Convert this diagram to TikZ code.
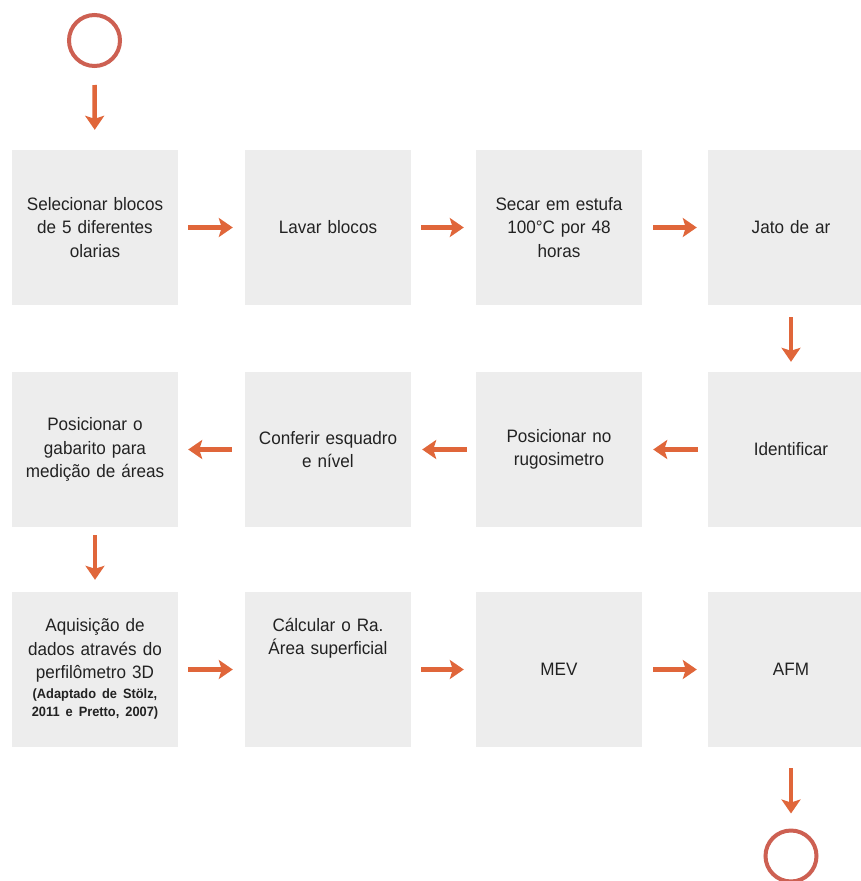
\documentclass[tikz,border=0pt]{standalone}
\usepackage{fontspec}
\setmainfont[FakeStretch=0.95, WordSpace=0.75]{Liberation Sans}
\usetikzlibrary{arrows.meta}
\definecolor{boxgray}{RGB}{237,237,237}
\definecolor{flow}{RGB}{224,102,58}
\definecolor{ring}{RGB}{205,96,82}
\definecolor{ink}{RGB}{34,34,34}
\newcommand{\stepfont}{\fontsize{18}{23.5}\selectfont}
\newcommand{\notefont}{\fontsize{13.5}{17}\selectfont\bfseries}
\tikzset{
  stepbox/.style={draw=none, fill=boxgray, minimum width=166pt, minimum height=155pt,
    inner sep=0pt, text width=160pt, align=center, text=ink, font=\stepfont},
  steptext/.style={inner sep=0pt, text width=160pt, align=center, text=ink, font=\stepfont},
  terminal/.style={circle, draw=ring, line width=4pt, minimum size=51pt, inner sep=0pt},
  flowarrow/.style={draw=flow, line width=4.5pt,
    -{Stealth[length=14pt, width=19pt, inset=3pt]}},
}
\begin{document}
\begin{tikzpicture}[x=1pt, y=-1pt]
  \clip (0,0) rectangle (861,881);
  \fill[white] (0,0) rectangle (861,881);

  % start and end markers
  \node[terminal] (start) at (94.5,40.5) {};
  \node[terminal] (finish) at (791,856) {};

  % first row
  \node[stepbox] (s1) at (95,227.5) {Selecionar blocos\\de 5 diferentes\\olarias};
  \node[stepbox] (s2) at (328,227.5) {Lavar blocos};
  \node[stepbox] (s3) at (559,227.5) {Secar em estufa\\100°C por 48\\horas};
  \node[stepbox] (s4) at (791,227.5) {Jato de ar};

  % second row
  \node[stepbox] (s5) at (791,449.5) {Identificar};
  \node[stepbox] (s6) at (559,449.5) {\raisebox{-6pt}{\parbox{160pt}{\centering Posicionar no\\rugosimetro}}};
  \node[stepbox] (s7) at (328,449.5) {\raisebox{-6pt}{\parbox{160pt}{\centering Conferir esquadro\\e nível}}};
  \node[stepbox] (s8) at (95,449.5) {Posicionar o\\gabarito para\\medição de áreas};

  % third row
  \node[stepbox] (s9) at (95,669.5) {\raisebox{10pt}{\begin{tabular}{@{}c@{}}
      Aquisição de\\dados através do\\perfilômetro 3D\\[-4pt]
      {\notefont (Adaptado de Stölz,}\\[-5pt]
      {\notefont 2011 e Pretto, 2007)}
    \end{tabular}}};
  \node[stepbox] (s10) at (328,669.5) {};
  \node[steptext] (s10t) at (328,638) {Cálcular o Ra.\\Área superficial};
  \node[stepbox] (s11) at (559,669.5) {MEV};
  \node[stepbox] (s12) at (791,669.5) {AFM};

  % connectors
  \draw[flowarrow, shorten <=17pt, shorten >=20pt] (start) -- (s1);
  \draw[flowarrow, shorten <=10pt, shorten >=12pt] (s1) -- (s2);
  \draw[flowarrow, shorten <=10pt, shorten >=12pt] (s2) -- (s3);
  \draw[flowarrow, shorten <=11pt, shorten >=11pt] (s3) -- (s4);
  \draw[flowarrow, shorten <=12pt, shorten >=10pt] (s4) -- (s5);
  \draw[flowarrow, shorten <=10pt, shorten >=11pt] (s5) -- (s6);
  \draw[flowarrow, shorten <=9pt, shorten >=11pt] (s6) -- (s7);
  \draw[flowarrow, shorten <=13pt, shorten >=10pt] (s7) -- (s8);
  \draw[flowarrow, shorten <=8pt, shorten >=12pt] (s8) -- (s9);
  \draw[flowarrow, shorten <=10pt, shorten >=12pt] (s9) -- (s10);
  \draw[flowarrow, shorten <=10pt, shorten >=12pt] (s10) -- (s11);
  \draw[flowarrow, shorten <=11pt, shorten >=11pt] (s11) -- (s12);
  \draw[flowarrow, shorten <=21pt, shorten >=15pt] (s12) -- (finish);
\end{tikzpicture}
\end{document}
